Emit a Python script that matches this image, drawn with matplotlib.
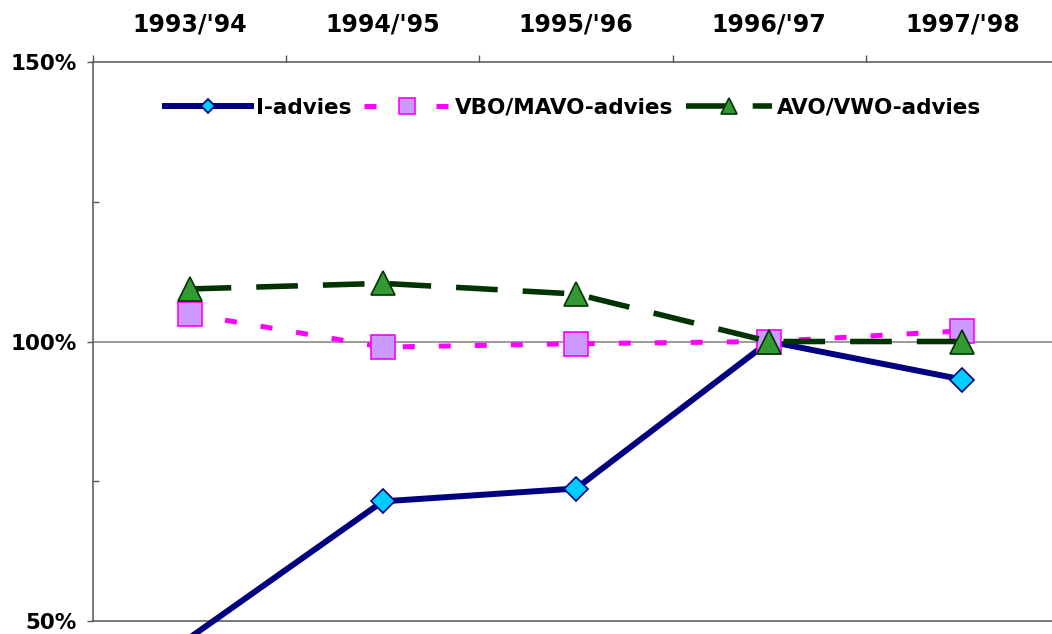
import matplotlib
matplotlib.use("Agg")
import matplotlib.pyplot as plt
import numpy as np

years = ["1993/'94", "1994/'95", "1995/'96", "1996/'97", "1997/'98"]
i_advies = [47.0, 71.4, 73.7, 100.0, 93.2]
vbo_mavo = [104.9, 99.0, 99.6, 100.0, 101.9]
avo_vwo = [109.4, 110.4, 108.5, 100.0, 100.0]

y_min, y_max = 50, 150

plt.rcParams["font.family"] = ["DejaVu Sans"]
plt.rcParams["font.weight"] = "bold"

W, H = 1052, 634
fig = plt.figure(figsize=(W / 100, H / 100), dpi=100)
ax = fig.add_axes([93 / W, 1 - 621 / H, 966 / W, (621 - 62) / H])

x = np.arange(len(years))
axis_col = "#555555"

# Excel leaves out markers for points below the axis minimum
shown = [i for i, v in enumerate(i_advies) if v >= y_min]

ax.plot(x, i_advies, color="#000080", lw=4.3, marker="D", ms=12,
        mfc="#00CCFF", mec="#000080", mew=1.2, markevery=shown,
        clip_on=False, label="I-advies", zorder=3)
ax.plot(x, vbo_mavo, color="#FF00FF", lw=3.6, dashes=(2.4, 4.8),
        marker="s", ms=17, mfc="#CC99FF", mec="#FF00FF", mew=1.2,
        label="VBO/MAVO-advies", zorder=4)
ax.plot(x, avo_vwo, color="#003300", lw=4.0, dashes=(7.5, 4.5),
        marker="^", ms=17, mfc="#339933", mec="#003300", mew=1.2,
        label="AVO/VWO-advies", zorder=5)

ax.axhline(100, color="#808080", lw=1.1, zorder=1)

ax.set_xlim(-0.5, len(years) - 0.5)
ax.set_ylim(y_min, y_max)

# x axis on top: ticks between categories, labels at the centres
ax.xaxis.tick_top()
ax.set_xticks(np.arange(-0.5, len(years), 1.0))
ax.set_xticklabels([])
ax.set_xticks(x, minor=True)
ax.set_xticklabels(years, minor=True, fontsize=17, fontweight="bold")
ax.tick_params(axis="x", which="major", direction="out", length=5,
               width=1, color=axis_col)
ax.tick_params(axis="x", which="minor", length=0, pad=18)

ax.set_yticks([50, 100, 150])
ax.set_yticklabels(["50%", "100%", "150%"], fontsize=15.5, fontweight="bold")
ax.set_yticks([75, 125], minor=True)
ax.tick_params(axis="y", which="major", direction="out", length=4,
               width=1, color=axis_col, pad=8)
ax.tick_params(axis="y", which="minor", direction="in", length=4,
               width=1, color=axis_col)

for side in ["top", "left", "bottom"]:
    ax.spines[side].set_color(axis_col)
    ax.spines[side].set_linewidth(1.1)
ax.spines["right"].set_visible(False)

leg = ax.legend(loc="center", bbox_to_anchor=(0.497, 0.918),
                ncol=3, frameon=False, fontsize=15.5, handlelength=4.0,
                handletextpad=0.25, columnspacing=0.55, borderaxespad=0)
for t in leg.get_texts():
    t.set_fontweight("bold")
# legend markers are drawn smaller than in the plot
for h, ms in zip(leg.legend_handles, [7, 12, 12]):
    h.set_markersize(ms)

fig.savefig("out.png", dpi=100)
